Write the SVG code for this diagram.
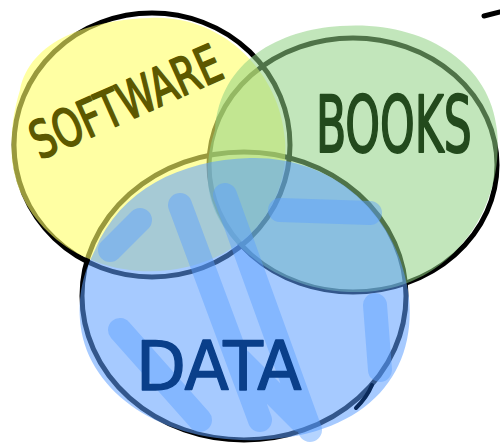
<svg xmlns="http://www.w3.org/2000/svg" width="500" height="445" viewBox="0 0 500 445">
<style>
.outline{fill:none;stroke:#000;stroke-width:5;stroke-linecap:round}
.lbl{font-family:"DejaVu Sans Condensed","DejaVu Sans",sans-serif;stroke-linejoin:round;stroke-linecap:round}
.scrib{fill:none;stroke:#5aa0ff;stroke-linecap:round;opacity:0.45}
</style>
<rect width="500" height="445" fill="#fff"/>
<g id="outlines">
<ellipse class="outline" cx="152" cy="145" rx="138" ry="132"/>
<ellipse class="outline" cx="353" cy="165" rx="144" ry="127"/>
<ellipse class="outline" cx="244" cy="296" rx="162" ry="144"/>
<path class="outline" d="M484 16 L500 12"/>
</g>
<g id="software">
<path d="M20 90 C30 40 90 20 150 18 C220 14 280 70 285 140 C290 200 250 260 170 270 C90 280 20 230 12 160 C10 130 14 110 20 90 Z" fill="#ffff66" opacity="0.6"/>
<text class="lbl" x="0" y="0" font-size="41" fill="#5c5800" stroke="#5c5800" stroke-width="1.3" transform="translate(40 160) rotate(-24) scale(1 1.27)">SOFTWARE</text>
</g>
<g id="books">
<path d="M215 130 C220 60 280 30 340 26 C420 20 490 60 497 130 C505 210 450 290 360 292 C280 294 210 240 208 180 C207 160 210 145 215 130 Z" fill="#8fd183" opacity="0.55"/>
<text class="lbl" x="0" y="0" font-size="49" fill="#234a1d" stroke="#234a1d" stroke-width="1.2" transform="translate(316 152) scale(1 1.6)">BOOKS</text>
</g>
<g id="data">
<path d="M95 250 C120 190 180 160 250 158 C330 156 395 210 408 290 C420 370 370 435 260 440 C160 444 85 390 80 320 C78 290 85 270 95 250 Z" fill="#5c9eff" opacity="0.55"/>
<path class="scrib" stroke-width="24" d="M180 205 L260 420 M225 195 L310 430 M140 220 L110 250 M120 330 L200 420 M240 360 L300 420 M280 210 L370 213 M375 305 L380 370"/>
<text class="lbl" x="0" y="0" font-size="72" fill="#0a3f8a" stroke="#0a3f8a" stroke-width="1.4" transform="translate(136 390) scale(1 0.95)">DATA</text>
<path d="M372 385 C368 395 362 402 356 408" fill="none" stroke="#0a2a5a" stroke-width="4" stroke-linecap="round"/>
</g>
<g id="connectors"/>
</svg>
